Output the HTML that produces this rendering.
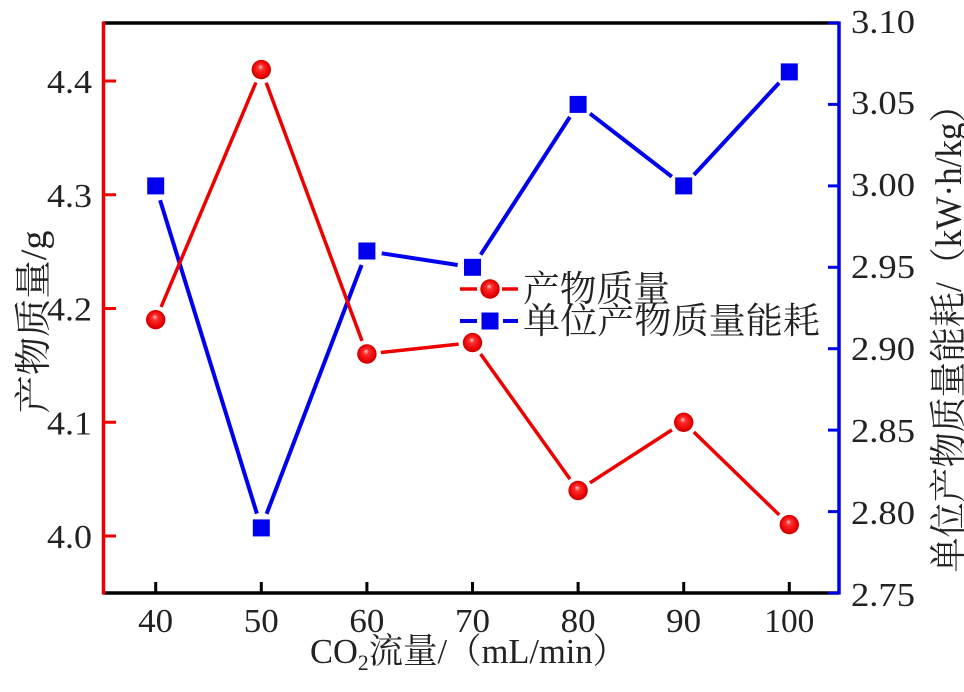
<!DOCTYPE html>
<html>
<head>
<meta charset="utf-8">
<style>
html,body{margin:0;padding:0;background:#fff;}
svg{display:block;}
text{font-family:"Liberation Serif","Noto Serif CJK SC",serif;fill:#222;}
</style>
</head>
<body>
<svg width="964" height="692" viewBox="0 0 964 692" xmlns="http://www.w3.org/2000/svg">
<defs>
<radialGradient id="sph" cx="50%" cy="50%" r="55%" fx="45%" fy="35%">
<stop offset="0" stop-color="#ffd0d0"/>
<stop offset="0.25" stop-color="#ff3030"/>
<stop offset="0.75" stop-color="#e80000"/>
<stop offset="1" stop-color="#b00000"/>
</radialGradient>
<g id="ball"><circle r="9.7" fill="url(#sph)"/></g>
<g id="sq"><rect x="-8.5" y="-8.5" width="17" height="17" fill="#0000ee"/></g>
</defs>

<!-- axes frame -->
<line x1="103" y1="23" x2="839" y2="23" stroke="#000" stroke-width="3.5"/>
<line x1="103" y1="593" x2="839" y2="593" stroke="#000" stroke-width="3.5"/>
<line x1="103.5" y1="21.5" x2="103.5" y2="594.5" stroke="#ee0000" stroke-width="3.5"/>
<line x1="839" y1="21.5" x2="839" y2="594.5" stroke="#0000ee" stroke-width="3.5"/>

<!-- left ticks -->
<g stroke="#ee0000" stroke-width="3">
<line x1="104" y1="536" x2="116" y2="536"/>
<line x1="104" y1="422.25" x2="116" y2="422.25"/>
<line x1="104" y1="308.5" x2="116" y2="308.5"/>
<line x1="104" y1="194.75" x2="116" y2="194.75"/>
<line x1="104" y1="81" x2="116" y2="81"/>
</g>
<!-- right ticks -->
<g stroke="#0000ee" stroke-width="3">
<line x1="828" y1="23" x2="839" y2="23"/>
<line x1="828" y1="104.4" x2="839" y2="104.4"/>
<line x1="828" y1="185.9" x2="839" y2="185.9"/>
<line x1="828" y1="267.3" x2="839" y2="267.3"/>
<line x1="828" y1="348.7" x2="839" y2="348.7"/>
<line x1="828" y1="430.1" x2="839" y2="430.1"/>
<line x1="828" y1="511.6" x2="839" y2="511.6"/>
<line x1="828" y1="593" x2="839" y2="593"/>
</g>
<!-- bottom ticks -->
<g stroke="#000" stroke-width="3">
<line x1="155.7" y1="582" x2="155.7" y2="593"/>
<line x1="261.3" y1="582" x2="261.3" y2="593"/>
<line x1="366.9" y1="582" x2="366.9" y2="593"/>
<line x1="472.5" y1="582" x2="472.5" y2="593"/>
<line x1="578.1" y1="582" x2="578.1" y2="593"/>
<line x1="683.7" y1="582" x2="683.7" y2="593"/>
<line x1="789.3" y1="582" x2="789.3" y2="593"/>
</g>

<!-- left tick labels -->
<g font-size="34">
<text x="47" y="93" textLength="45" lengthAdjust="spacingAndGlyphs">4.4</text>
<text x="47" y="206.75" textLength="45" lengthAdjust="spacingAndGlyphs">4.3</text>
<text x="47" y="320.5" textLength="45" lengthAdjust="spacingAndGlyphs">4.2</text>
<text x="47" y="434.25" textLength="45" lengthAdjust="spacingAndGlyphs">4.1</text>
<text x="47" y="548" textLength="45" lengthAdjust="spacingAndGlyphs">4.0</text>
</g>
<!-- right tick labels -->
<g font-size="34">
<text x="851" y="33" textLength="64" lengthAdjust="spacingAndGlyphs">3.10</text>
<text x="851" y="114" textLength="64" lengthAdjust="spacingAndGlyphs">3.05</text>
<text x="851" y="196" textLength="64" lengthAdjust="spacingAndGlyphs">3.00</text>
<text x="851" y="278" textLength="64" lengthAdjust="spacingAndGlyphs">2.95</text>
<text x="851" y="360" textLength="64" lengthAdjust="spacingAndGlyphs">2.90</text>
<text x="851" y="442" textLength="64" lengthAdjust="spacingAndGlyphs">2.85</text>
<text x="851" y="524" textLength="64" lengthAdjust="spacingAndGlyphs">2.80</text>
<text x="851" y="606" textLength="64" lengthAdjust="spacingAndGlyphs">2.75</text>
</g>
<!-- bottom tick labels -->
<g font-size="34">
<text x="138.2" y="632" textLength="35" lengthAdjust="spacingAndGlyphs">40</text>
<text x="243.8" y="632" textLength="35" lengthAdjust="spacingAndGlyphs">50</text>
<text x="349.4" y="632" textLength="35" lengthAdjust="spacingAndGlyphs">60</text>
<text x="455" y="632" textLength="35" lengthAdjust="spacingAndGlyphs">70</text>
<text x="560.6" y="632" textLength="35" lengthAdjust="spacingAndGlyphs">80</text>
<text x="666.2" y="632" textLength="35" lengthAdjust="spacingAndGlyphs">90</text>
<text x="764.3" y="632" textLength="50" lengthAdjust="spacingAndGlyphs">100</text>
</g>

<!-- axis titles -->
<text x="310" y="663" font-size="35" textLength="317" lengthAdjust="spacingAndGlyphs">CO<tspan font-size="22" dy="7">2</tspan><tspan dy="-7">流量/（mL/min）</tspan></text>
<text transform="translate(46,322) rotate(-90)" font-size="37" text-anchor="middle" textLength="183" lengthAdjust="spacingAndGlyphs">产物质量/g</text>
<text transform="translate(961,330) rotate(-90)" font-size="37" text-anchor="middle" textLength="485" lengthAdjust="spacingAndGlyphs">单位产物质量能耗/（kW·h/kg）</text>

<!-- blue series lines -->
<g stroke="#0000ee" stroke-width="4" stroke-linecap="butt">
<line x1="160.1" y1="200.2" x2="256.9" y2="513.6"/>
<line x1="266.6" y1="513.9" x2="361.6" y2="265.0"/>
<line x1="381.7" y1="253.3" x2="457.7" y2="265.0"/>
<line x1="480.7" y1="254.7" x2="569.9" y2="117.0"/>
<line x1="590.0" y1="113.6" x2="671.8" y2="176.7"/>
<line x1="693.9" y1="174.9" x2="779.1" y2="82.9"/>
</g>
<!-- red series lines -->
<g stroke="#ee0000" stroke-width="3.5" stroke-linecap="butt">
<line x1="161.1" y1="307.0" x2="255.9" y2="82.5"/>
<line x1="266.2" y1="82.7" x2="362.0" y2="340.9"/>
<line x1="380.8" y1="352.5" x2="458.6" y2="344.1"/>
<line x1="480.6" y1="354.0" x2="570.0" y2="479.1"/>
<line x1="589.9" y1="482.9" x2="671.9" y2="429.9"/>
<line x1="693.8" y1="432.0" x2="779.2" y2="514.9"/>
</g>

<!-- blue markers -->
<use href="#sq" x="155.7" y="185.9"/>
<use href="#sq" x="261.3" y="527.9"/>
<use href="#sq" x="366.9" y="251.0"/>
<use href="#sq" x="472.5" y="267.3"/>
<use href="#sq" x="578.1" y="104.4"/>
<use href="#sq" x="683.7" y="185.9"/>
<use href="#sq" x="789.3" y="71.9"/>
<!-- red markers -->
<use href="#ball" x="155.7" y="319.7"/>
<use href="#ball" x="261.3" y="69.6"/>
<use href="#ball" x="366.9" y="354.0"/>
<use href="#ball" x="472.5" y="342.6"/>
<use href="#ball" x="578.1" y="490.5"/>
<use href="#ball" x="683.7" y="422.3"/>
<use href="#ball" x="789.3" y="524.6"/>

<!-- legend -->
<line x1="460" y1="289" x2="477" y2="289" stroke="#ee0000" stroke-width="3.5"/>
<line x1="502" y1="289" x2="518" y2="289" stroke="#ee0000" stroke-width="3.5"/>
<use href="#ball" x="490" y="289"/>
<line x1="460" y1="321" x2="477" y2="321" stroke="#0000ee" stroke-width="4"/>
<line x1="503" y1="321" x2="518" y2="321" stroke="#0000ee" stroke-width="4"/>
<use href="#sq" x="490" y="321"/>
<text x="523" y="301" font-size="36" textLength="147" lengthAdjust="spacingAndGlyphs">产物质量</text>
<text x="523" y="333" font-size="36" textLength="297" lengthAdjust="spacingAndGlyphs">单位产物质量能耗</text>
</svg>
</body>
</html>
